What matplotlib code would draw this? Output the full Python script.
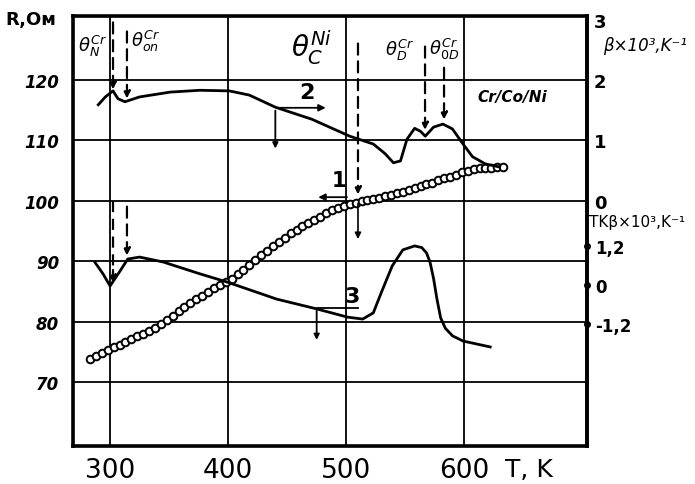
import matplotlib.pyplot as plt

# ---------------------------
# Data
# ---------------------------
# curve 1: resistance R (Ohm) vs T (K), open circles
t_res = [283, 288, 293, 298, 303, 308, 313, 318, 323, 328, 333, 338, 343, 348,
         353, 358, 363, 368, 373, 378, 383, 388, 393, 398, 403, 408, 413, 418,
         423, 428, 433, 438, 443, 448, 453, 458, 463, 468, 473, 478, 483, 488,
         493, 498, 503, 508, 513, 518, 523, 528, 533, 538, 543, 548, 553, 558,
         563, 568, 573, 578, 583, 588, 593, 598, 603, 608, 613, 618, 623, 628, 633]
r_ohm = [73.8, 74.3, 74.8, 75.3, 75.8, 76.2, 76.6, 77.1, 77.6, 78.0, 78.5, 79.0,
         79.6, 80.3, 81.0, 81.7, 82.4, 83.1, 83.7, 84.3, 84.9, 85.5, 86.0, 86.5,
         87.1, 87.8, 88.6, 89.4, 90.2, 91.0, 91.7, 92.5, 93.2, 93.9, 94.6, 95.2,
         95.8, 96.4, 96.9, 97.4, 97.9, 98.4, 98.8, 99.2, 99.5, 99.7, 99.9, 100.1,
         100.3, 100.5, 100.8, 101.0, 101.3, 101.5, 101.8, 102.1, 102.4, 102.7,
         103.0, 103.4, 103.7, 104.0, 104.3, 104.7, 105.0, 105.3, 105.4, 105.5,
         105.5, 105.6, 105.6]

# curve 2: beta x 10^3 (1/K) vs T
t_beta = [290, 296, 302.5, 306.7, 312.6, 325, 351, 376, 401, 418, 440, 471, 503,
          523, 533, 540, 546, 551.5, 558, 563, 567, 574, 582, 590, 599, 607, 618, 630]
beta = [1.59, 1.72, 1.82, 1.69, 1.64, 1.72, 1.80, 1.83, 1.82, 1.75, 1.55, 1.35,
        1.07, 0.94, 0.78, 0.63, 0.66, 1.02, 1.20, 1.15, 1.07, 1.22, 1.27, 1.19,
        0.94, 0.73, 0.61, 0.56]

# curve 3: TK beta x 10^3 (1/K) vs T
t_tk = [287, 294, 300, 308, 315, 325, 345, 376, 399, 416, 441, 475, 501, 514,
        523, 530, 539, 548, 558, 564, 568, 571, 574, 577, 580, 584, 590, 599, 622]
tk_beta = [0.70, 0.34, -0.03, 0.40, 0.79, 0.85, 0.70, 0.34, 0.09, -0.12, -0.43,
           -0.73, -0.98, -1.04, -0.85, -0.21, 0.58, 1.07, 1.19, 1.14, 0.98, 0.70,
           0.20, -0.45, -1.00, -1.32, -1.55, -1.71, -1.89]

# transition temperatures (K)
theta_labels = [r'$\theta_N^{Cr}$', r'$\theta_{on}^{Cr}$', r'$\theta_C^{Ni}$',
                r'$\theta_D^{Cr}$', r'$\theta_{0D}^{Cr}$']
theta_t = [302.5, 314.3, 510, 566.8, 582.9]

x_ticks = [300, 400, 500, 600]
r_ticks = [70, 80, 90, 100, 110, 120]
beta_ticks = [0, 1, 2, 3]
tk_ticks = [-1.2, 0, 1.2]
tk_labels = ['-1,2', '0', '1,2']

# ---------------------------
# Figure
# ---------------------------
W, H = 695, 485
fig = plt.figure(figsize=(W / 100, H / 100), dpi=100)
ax = fig.add_axes([73 / W, 38 / H, 514 / W, 430 / H])

ax.set_xlim(268.6, 704)
ax.set_ylim(59.4, 130.6)
ax.set_xticks(x_ticks)
ax.set_yticks(r_ticks)
ax.grid(True, color='black', lw=1.3)
ax.tick_params(length=0)
ax.tick_params(axis='x', labelsize=19, pad=8)
ax.tick_params(axis='y', labelsize=12, pad=10)
for lab in ax.get_yticklabels():
    lab.set_fontweight('bold')
    lab.set_fontstyle('italic')
for sp in ax.spines.values():
    sp.set_linewidth(2.6)

# right axes: beta and TK beta share the right spine
ax_b = ax.twinx()
ax_b.set_ylim(-4.06, 3.06)
ax_b.set_yticks(beta_ticks)
ax_b.tick_params(length=0, labelsize=13, pad=5)
ax_b.spines['right'].set_linewidth(2.6)
for lab in ax_b.get_yticklabels():
    lab.set_fontweight('bold')

ax_t = ax.twinx()
ax_t.set_ylim(-4.91, 8.2)
ax_t.set_yticks(tk_ticks)
ax_t.set_yticklabels(tk_labels)
ax_t.tick_params(length=0, labelsize=12, pad=6)
ax_t.spines['right'].set_visible(False)
for lab in ax_t.get_yticklabels():
    lab.set_fontweight('bold')
ax_t.plot([1, 1, 1], tk_ticks, 'o', color='black', ms=4,
          transform=ax_t.get_yaxis_transform(), clip_on=False)

# curves
ax.plot(t_res, r_ohm, '-o', color='black', lw=1.0, ms=5.5, mfc='white',
        mec='black', mew=1.4)
ax_b.plot(t_beta, beta, color='black', lw=2.0)
ax_t.plot(t_tk, tk_beta, color='black', lw=2.0)

# transition markers (dashed arrows)
dash = dict(color='black', lw=1.6, ls=(0, (5, 3)))
arr = dict(arrowstyle='-|>', color='black', lw=1.6, ls=(0, (5, 3)),
           mutation_scale=10)
ax.annotate('', xy=(theta_t[0], 118.0), xytext=(theta_t[0], 130.0), arrowprops=arr)
ax.plot([theta_t[0], theta_t[0]], [100, 87.2], **dash)
ax.annotate('', xy=(theta_t[0], 86.0), xytext=(theta_t[0], 89), arrowprops=arr)
ax.annotate('', xy=(theta_t[1], 116.5), xytext=(theta_t[1], 128.5), arrowprops=arr)
ax.annotate('', xy=(theta_t[1], 90.5), xytext=(theta_t[1], 99.5), arrowprops=arr)
ax.annotate('', xy=(theta_t[2], 100.6), xytext=(theta_t[2], 126.5), arrowprops=arr)
ax.annotate('', xy=(theta_t[2], 93.2), xytext=(theta_t[2], 100.0),
            arrowprops=dict(arrowstyle='-|>', color='black', lw=1.2,
                            mutation_scale=9))
ax.annotate('', xy=(theta_t[3], 111.3), xytext=(theta_t[3], 126.0), arrowprops=arr)
ax.annotate('', xy=(theta_t[4], 113.0), xytext=(theta_t[4], 122.5), arrowprops=arr)

label_pos = [(285, 125.8), (330, 126.5), (471, 125.5), (545, 125.0), (583, 125.3)]
label_size = [13, 13, 20, 13, 13]
for lab, (tx, ty), fs in zip(theta_labels, label_pos, label_size):
    ax.text(tx, ty, lab, fontsize=fs, ha='center', va='center')

# curve tags with axis arrows
ax.annotate('', xy=(485, 115.4), xytext=(440, 115.4),
            arrowprops=dict(arrowstyle='-|>', color='black', lw=1.3, mutation_scale=10))
ax.annotate('', xy=(440, 108.2), xytext=(440, 115.4),
            arrowprops=dict(arrowstyle='-|>', color='black', lw=1.3, mutation_scale=8))
ax.text(467, 118.0, '2', fontsize=16, fontweight='bold', ha='center', va='center')

ax.annotate('', xy=(474, 100.6), xytext=(503, 100.6),
            arrowprops=dict(arrowstyle='-|>', color='black', lw=1.3, mutation_scale=10))
ax.text(494, 103.4, '1', fontsize=15, fontweight='bold', ha='center', va='center')

ax.plot([475, 510], [82.3, 82.3], color='black', lw=1.3)
ax.annotate('', xy=(475, 76.5), xytext=(475, 82.3),
            arrowprops=dict(arrowstyle='-|>', color='black', lw=1.3, mutation_scale=8))
ax.text(505, 84.3, '3', fontsize=16, fontweight='bold', ha='center', va='center')

ax.text(641, 117.2, 'Cr/Co/Ni', fontsize=11, fontweight='bold', fontstyle='italic',
        ha='center', va='center')

# axis titles
fig.text(5 / W, 1 - 20 / H, 'R,Ом', fontsize=13, fontweight='bold',
         ha='left', va='center')
fig.text(505 / W, 1 - 470 / H, 'T, K', fontsize=18, ha='left', va='center')
fig.text(603 / W, 1 - 46 / H, 'β×10³,K⁻¹', fontsize=12, fontstyle='italic',
         ha='left', va='center')
fig.text(589 / W, 1 - 223 / H, 'TKβ×10³,K⁻¹', fontsize=11,
         ha='left', va='center')

fig.savefig('out.png', dpi=100)
